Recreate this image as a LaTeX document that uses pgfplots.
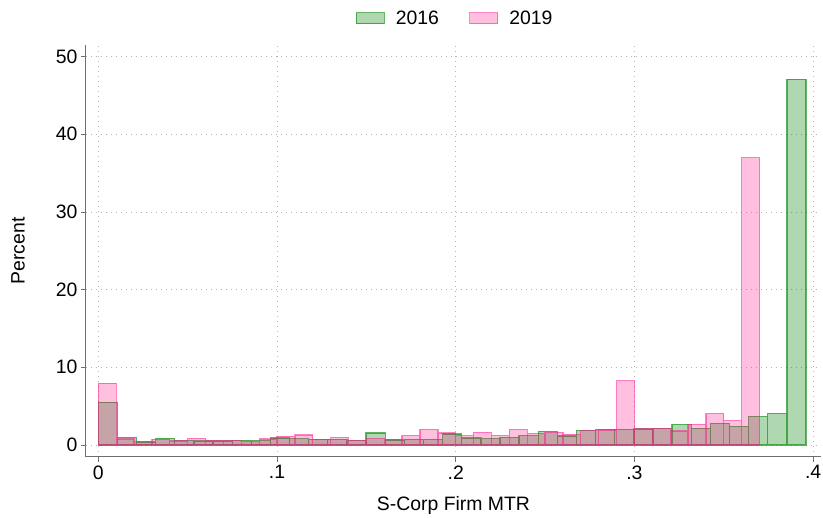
\documentclass[border=0pt]{standalone}
\usepackage{fontspec}
\setmainfont{Liberation Sans}
\usepackage{pgfplots}
\pgfplotsset{compat=1.18}
\definecolor{gbase}{RGB}{0,128,0}
\definecolor{pbase}{RGB}{255,22,141}
\definecolor{axgray}{RGB}{110,110,110}
\pgfplotsset{mylegend/.style={legend image code/.code={\draw[##1] (0pt,-5.5pt) rectangle (28pt,5.5pt);}}}
\newcommand{\fs}{\fontsize{19.4}{22}\selectfont}
\begin{document}
\begin{tikzpicture}[x=1pt,y=1pt]
\path[use as bounding box] (0,0) rectangle (823,518);
\begin{axis}[
  at={(86pt,61pt)}, anchor=south west,
  scale only axis, width=735pt, height=412pt,
  xmin=-0.0069, xmax=0.4044, ymin=-1.55, ymax=51.5,
  axis lines*=left,
  axis line style={axgray, line width=1pt},
  xtick={0,0.1,0.2,0.3,0.4}, xticklabels={0,.1,.2,.3,.4},
  ytick={0,10,20,30,40,50},
  tick align=outside, major tick length=5pt,
  tick style={axgray, line width=0.8pt},
  grid=major,
  major grid style={gray!60, line width=0.8pt, dash pattern=on 1pt off 4pt},
  /pgf/number format/assume math mode=true,
  tick label style={font=\fs, black},
  label style={font=\fs},
  xlabel={S-Corp Firm MTR},
  ylabel={Percent},
  xlabel style={at={(axis description cs:0.5,0)}, anchor=center, yshift=-48pt},
  ylabel style={at={(axis description cs:0,0.5)}, anchor=center, rotate=0, yshift=68pt},
  legend style={at={(0.502,1.0655)}, anchor=center, draw=none, fill=none,
    legend columns=2, font=\fs,
    /tikz/every odd column/.append style={column sep=9pt},
    /tikz/every even column/.append style={column sep=28pt}},
  legend cell align=left,
]
\addplot[ybar interval, fill=gbase, fill opacity=0.31, draw=gbase, draw opacity=0.6, line width=1.3pt, mylegend] coordinates {
(0,5.5) (0.010703,0.98) (0.021405,0.37) (0.032108,0.85) (0.042811,0.59)
(0.053514,0.51) (0.064216,0.51) (0.074919,0.59) (0.085622,0.55) (0.096324,0.89)
(0.107027,0.81) (0.117730,0.72) (0.128432,0.72) (0.139135,0.59) (0.149838,1.54)
(0.160541,0.64) (0.171243,0.72) (0.181946,0.72) (0.192649,1.41) (0.203351,0.89)
(0.214054,0.81) (0.224757,0.98) (0.235459,1.2) (0.246162,1.75) (0.256865,1.15)
(0.267568,1.88) (0.278270,2.01) (0.288973,2.01) (0.299676,2.06) (0.310378,2.14)
(0.321081,2.66) (0.331784,2.14) (0.342486,2.79) (0.353189,2.4) (0.363892,3.69)
(0.374595,4.08) (0.385297,47.1) (0.396,0)
};
\addlegendentry{2016}
\addplot[ybar interval, fill=pbase, fill opacity=0.27, draw=pbase, draw opacity=0.52, line width=1.3pt, mylegend] coordinates {
(0,7.95) (0.01,0.77) (0.02,0.44) (0.03,0.74) (0.04,0.52)
(0.05,0.85) (0.06,0.59) (0.07,0.59) (0.08,0.46) (0.09,0.77)
(0.10,1.12) (0.11,1.28) (0.12,0.72) (0.13,0.98) (0.14,0.59)
(0.15,0.85) (0.16,0.72) (0.17,1.24) (0.18,2.01) (0.19,1.54)
(0.20,1.2) (0.21,1.62) (0.22,1.24) (0.23,2.01) (0.24,1.5)
(0.25,1.62) (0.26,1.37) (0.27,1.84) (0.28,1.92) (0.29,8.28)
(0.30,2.1) (0.31,2.14) (0.32,1.8) (0.33,2.66) (0.34,4.08)
(0.35,3.12) (0.36,37.0) (0.37,0)
};
\addlegendentry{2019}
\end{axis}
\end{tikzpicture}
\end{document}
